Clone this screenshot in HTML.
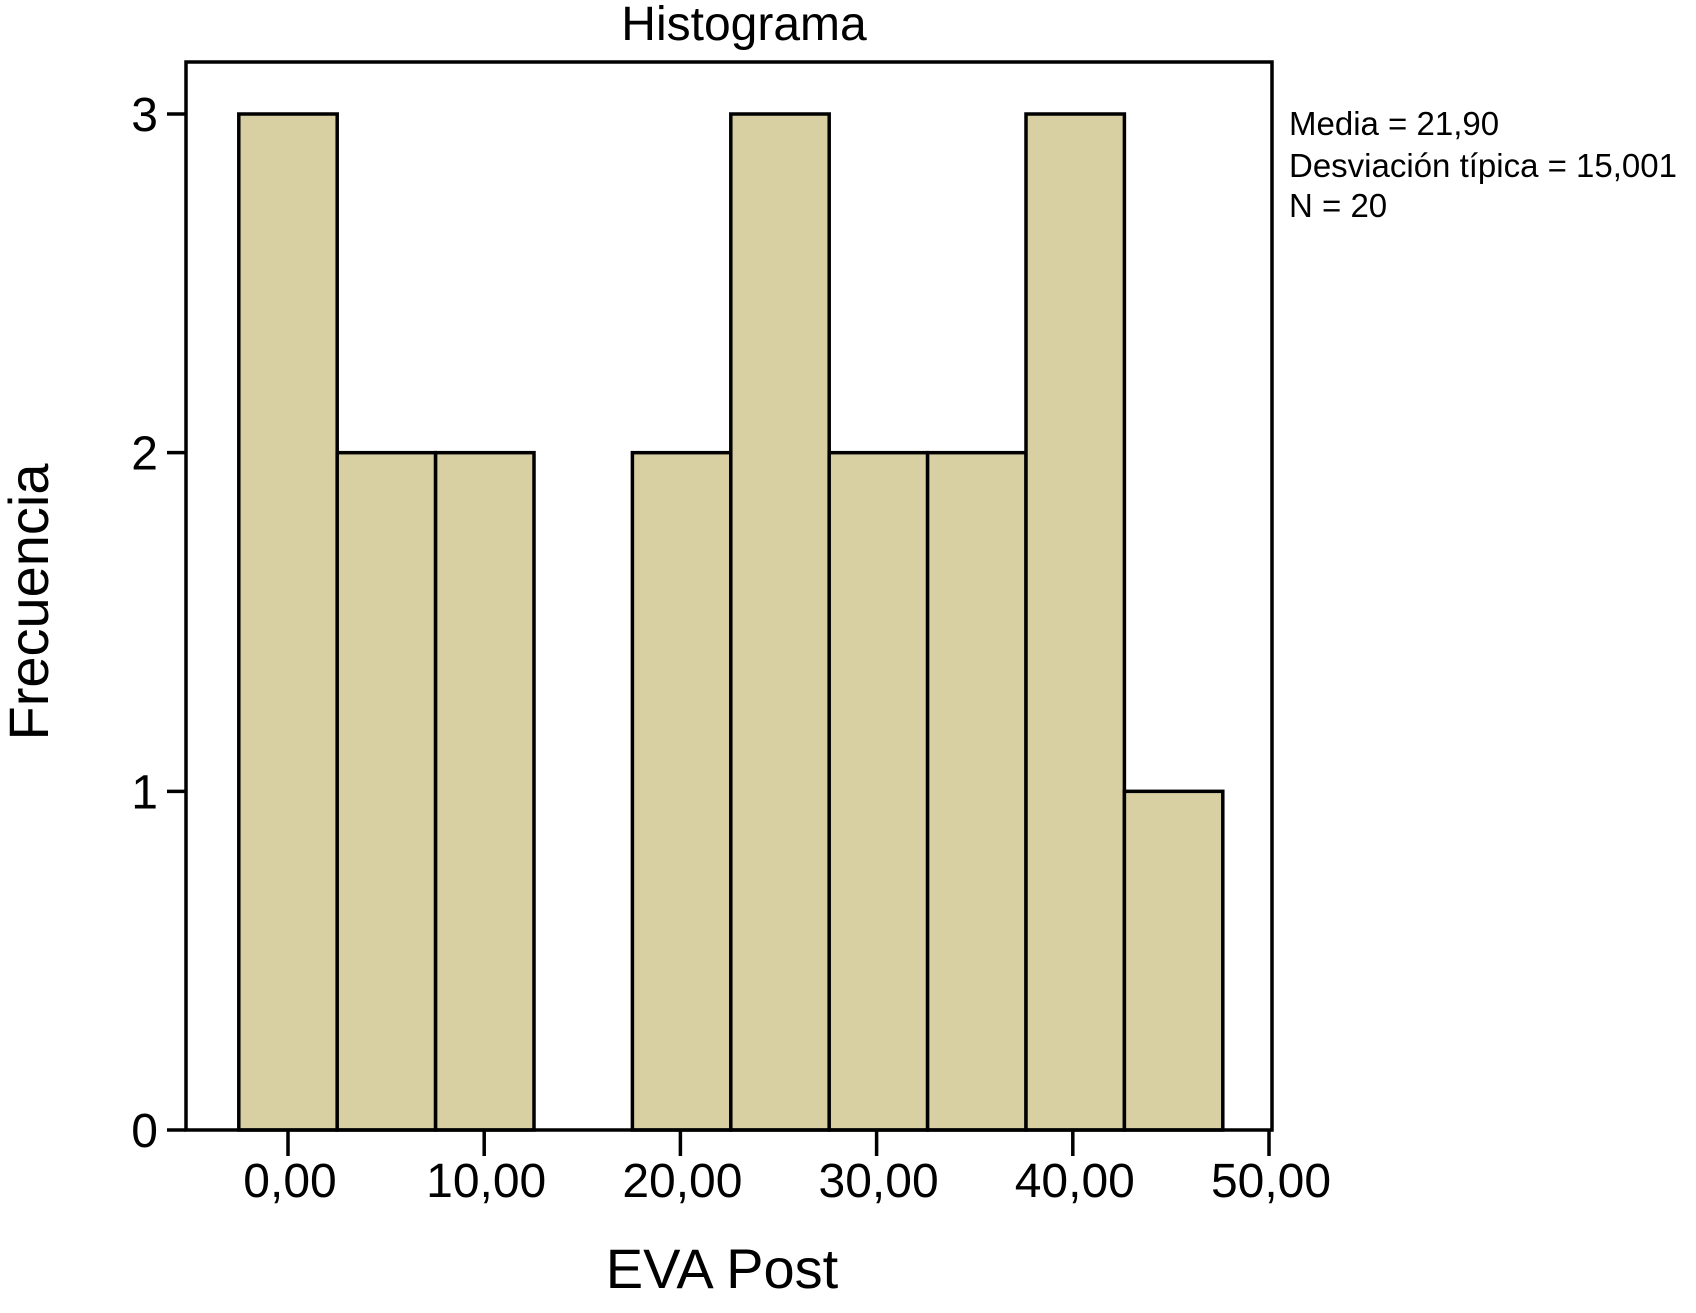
<!DOCTYPE html>
<html><head><meta charset="utf-8"><style>
html,body{margin:0;padding:0;background:#fff;}
svg{display:block;font-family:"Liberation Sans",Arial,sans-serif;}
</style></head><body>
<svg id="chart" width="1696" height="1313" viewBox="0 0 1696 1313">
<text x="744" y="40" font-size="48" text-anchor="middle">Histograma</text>
<g id="bars"></g>
<rect x="186" y="62" width="1086" height="1068" fill="none" stroke="#000" stroke-width="3.5"/>
<g id="axes"></g>
<g font-size="33">
<text x="1289" y="135">Media = 21,90</text>
<text x="1289" y="177">Desviación típica = 15,001</text>
<text x="1289" y="217">N = 20</text>
</g>
<text x="722" y="1288" font-size="56" text-anchor="middle">EVA Post</text>
<text x="0" y="0" font-size="56" text-anchor="middle" transform="translate(48,602) rotate(-90)">Frecuencia</text>
</svg>
<script>
const binStarts = [-2.5, 2.5, 7.5, 12.5, 17.5, 22.5, 27.5, 32.5, 37.5, 42.5];
const binWidth = 5;
const counts = [3, 2, 2, 0, 2, 3, 2, 2, 3, 1];
const xTicks = [0, 10, 20, 30, 40, 50];
const xTickLabels = ["0,00", "10,00", "20,00", "30,00", "40,00", "50,00"];
const yTicks = [0, 1, 2, 3];
const yTickLabels = ["0", "1", "2", "3"];

const NS = "http://www.w3.org/2000/svg";
const xS = v => 288 + v * (1269 - 288) / 50;
const bS = v => 288 + v * (1272 - 288) / 50;
const yS = v => 1130 - v * (1130 - 114) / 3;
const bars = document.getElementById('bars');
const axes = document.getElementById('axes');
binStarts.forEach((s, i) => {
  if (counts[i] <= 0) return;
  const r = document.createElementNS(NS, 'rect');
  r.setAttribute('x', bS(s));
  r.setAttribute('y', yS(counts[i]));
  r.setAttribute('width', bS(s + binWidth) - bS(s));
  r.setAttribute('height', yS(0) - yS(counts[i]));
  r.setAttribute('fill', '#d8d0a3');
  r.setAttribute('stroke', '#000');
  r.setAttribute('stroke-width', '3.5');
  
  
  bars.appendChild(r);
});
xTicks.forEach((t, i) => {
  const l = document.createElementNS(NS, 'line');
  l.setAttribute('x1', xS(t)); l.setAttribute('x2', xS(t));
  l.setAttribute('y1', 1130); l.setAttribute('y2', 1156);
  l.setAttribute('stroke', '#000'); l.setAttribute('stroke-width', '3.5');
  
  
  axes.appendChild(l);
  const tx = document.createElementNS(NS, 'text');
  tx.setAttribute('x', xS(t) + 2); tx.setAttribute('y', 1197);
  tx.setAttribute('font-size', '48'); tx.setAttribute('text-anchor', 'middle');
  tx.textContent = xTickLabels[i];
  
  
  axes.appendChild(tx);
});
yTicks.forEach((t, i) => {
  const l = document.createElementNS(NS, 'line');
  l.setAttribute('x1', 167); l.setAttribute('x2', 186);
  l.setAttribute('y1', yS(t)); l.setAttribute('y2', yS(t));
  l.setAttribute('stroke', '#000'); l.setAttribute('stroke-width', '3.5');
  
  
  axes.appendChild(l);
  const tx = document.createElementNS(NS, 'text');
  tx.setAttribute('x', 158); tx.setAttribute('y', yS(t) + 17);
  tx.setAttribute('font-size', '48'); tx.setAttribute('text-anchor', 'end');
  tx.textContent = yTickLabels[i];
  
  
  axes.appendChild(tx);
});
</script>
</body></html>
